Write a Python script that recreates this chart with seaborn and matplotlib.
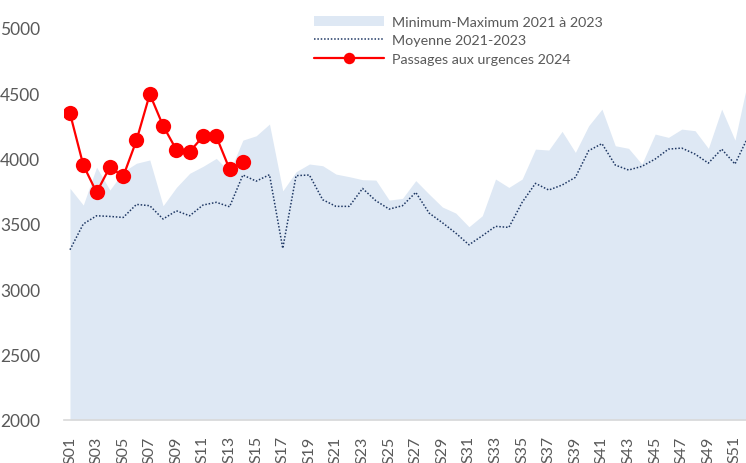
import matplotlib
matplotlib.use("Agg")
import matplotlib.pyplot as plt
import seaborn as sns
import pandas as pd

# Weekly emergency visits (S01..S52)
weeks = list(range(1, 53))
week_labels = [f"S{w:02d}" for w in weeks]

max_2021_2023 = [3773, 3645, 3935, 3760, 3900, 3965, 3990, 3640, 3780, 3888,
                 3941, 4002, 3900, 4142, 4175, 4265, 3754, 3900, 3959, 3946,
                 3882, 3862, 3839, 3836, 3683, 3696, 3832, 3729, 3630, 3584,
                 3479, 3563, 3844, 3780, 3844, 4073, 4066, 4209, 4048, 4252,
                 4379, 4099, 4079, 3959, 4188, 4163, 4226, 4214, 4079, 4379,
                 4142, 4610]

mean_2021_2023 = [3303, 3500, 3563, 3558, 3550, 3650, 3640, 3538, 3601, 3563,
                  3645, 3666, 3632, 3875, 3828, 3877, 3314, 3870, 3875, 3686,
                  3635, 3635, 3772, 3678, 3614, 3640, 3742, 3584, 3510, 3431,
                  3341, 3410, 3482, 3474, 3666, 3811, 3760, 3798, 3857, 4061,
                  4115, 3951, 3913, 3941, 3997, 4073, 4081, 4035, 3966, 4073,
                  3959, 4170]

weeks_2024 = list(range(1, 15))
urgences_2024 = [4347, 3951, 3742, 3936, 3864, 4140, 4494, 4252, 4068, 4053,
                 4170, 4170, 3920, 3971]

df_hist = pd.DataFrame({"semaine": weeks, "max": max_2021_2023, "moyenne": mean_2021_2023})
df_2024 = pd.DataFrame({"semaine": weeks_2024, "valeur": urgences_2024})

sns.set_style("white")
plt.rcParams["font.family"] = ["Lato", "DejaVu Sans"]

fig = plt.figure(figsize=(7.46, 4.64), dpi=100)
ax = fig.add_axes([64 / 746, 43 / 464, 1 - 64 / 746, 392 / 464])

grey = "#595959"

ax.fill_between(df_hist["semaine"], 2000, df_hist["max"], color="#DEE8F4",
                linewidth=0, label="Minimum-Maximum 2021 à 2023")
sns.lineplot(data=df_hist, x="semaine", y="moyenne", ax=ax, color="#1F3864",
             linestyle=(0, (1, 1.2)), linewidth=1.1, label="Moyenne 2021-2023")
sns.lineplot(data=df_2024, x="semaine", y="valeur", ax=ax, color="#FF0000",
             linewidth=1.6, marker="o", markersize=11, markeredgewidth=0,
             label="Passages aux urgences 2024")

ax.set_xlim(0.55, 51.83)
ax.set_ylim(2000, 5000)
ax.set_yticks([2000, 2500, 3000, 3500, 4000, 4500, 5000])
ax.set_xticks(weeks[::2])
ax.set_xticklabels(week_labels[::2], rotation=90)
ax.tick_params(axis="y", length=0, pad=17, labelsize=12.5, labelcolor=grey)
ax.tick_params(axis="x", length=0, pad=11, labelsize=11.5, labelcolor=grey)
ax.set_xlabel("")
ax.set_ylabel("")

for side in ["top", "right", "left"]:
    ax.spines[side].set_visible(False)
ax.spines["bottom"].set_color("#D9D9D9")
ax.spines["bottom"].set_linewidth(1.2)

leg = ax.legend(loc="upper left", bbox_to_anchor=(314 / 746, 1 - 17 / 464),
                bbox_transform=fig.transFigure, frameon=False, fontsize=10.3,
                handlelength=4.9, handletextpad=0.55, borderpad=0,
                borderaxespad=0, labelspacing=0.45, markerscale=0.75)
for t in leg.get_texts():
    t.set_color(grey)

fig.savefig("out.png", dpi=100)
